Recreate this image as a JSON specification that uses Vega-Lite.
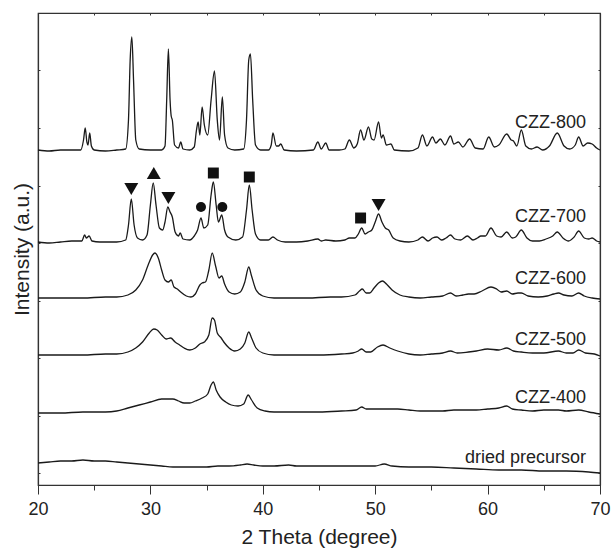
{
  "$schema": "https://vega.github.io/schema/vega-lite/v6.json",
  "autosize": {"type": "none"},
  "width": 562,
  "height": 472,
  "padding": {"left": 38, "top": 13, "right": 12, "bottom": 64},
  "background": "white",
  "config": {
    "view": {"stroke": "#333", "strokeWidth": 1.2},
    "font": "Liberation Sans",
    "axis": {"labelFont": "Liberation Sans", "titleFont": "Liberation Sans", "domainColor": "#333", "domainWidth": 1.2, "tickColor": "#333", "labelColor": "#222", "titleColor": "#222", "grid": false}
  },
  "datasets": {
    "lines": [
      {"s":"800","x":20,"v":335},{"s":"800","x":21,"v":334},{"s":"800","x":22,"v":335},{"s":"800","x":23,"v":335},{"s":"800","x":23.8,"v":335},{"s":"800","x":24.05,"v":345},{"s":"800","x":24.2,"v":357},{"s":"800","x":24.35,"v":343},{"s":"800","x":24.45,"v":340},{"s":"800","x":24.6,"v":352},{"s":"800","x":24.75,"v":339},{"s":"800","x":25,"v":335},{"s":"800","x":26,"v":334},{"s":"800","x":27,"v":335},{"s":"800","x":27.8,"v":336},{"s":"800","x":28.05,"v":365},{"s":"800","x":28.2,"v":425},{"s":"800","x":28.35,"v":448},{"s":"800","x":28.5,"v":405},{"s":"800","x":28.7,"v":345},{"s":"800","x":29,"v":336},{"s":"800","x":30,"v":335},{"s":"800","x":31,"v":335},{"s":"800","x":31.3,"v":339},{"s":"800","x":31.45,"v":385},{"s":"800","x":31.6,"v":436},{"s":"800","x":31.75,"v":385},{"s":"800","x":31.85,"v":369},{"s":"800","x":31.95,"v":365},{"s":"800","x":32.15,"v":340},{"s":"800","x":32.5,"v":337},{"s":"800","x":32.7,"v":343},{"s":"800","x":32.9,"v":336},{"s":"800","x":33.5,"v":335},{"s":"800","x":33.9,"v":338},{"s":"800","x":34.1,"v":355},{"s":"800","x":34.25,"v":363},{"s":"800","x":34.4,"v":350},{"s":"800","x":34.6,"v":378},{"s":"800","x":34.8,"v":360},{"s":"800","x":35.1,"v":350},{"s":"800","x":35.4,"v":385},{"s":"800","x":35.7,"v":414},{"s":"800","x":35.95,"v":365},{"s":"800","x":36.15,"v":345},{"s":"800","x":36.4,"v":388},{"s":"800","x":36.6,"v":350},{"s":"800","x":36.9,"v":337},{"s":"800","x":37.5,"v":335},{"s":"800","x":38.3,"v":336},{"s":"800","x":38.55,"v":365},{"s":"800","x":38.75,"v":425},{"s":"800","x":38.9,"v":431},{"s":"800","x":39.1,"v":385},{"s":"800","x":39.35,"v":340},{"s":"800","x":39.8,"v":335},{"s":"800","x":40.5,"v":335},{"s":"800","x":40.75,"v":340},{"s":"800","x":40.9,"v":352},{"s":"800","x":41.2,"v":339},{"s":"800","x":41.4,"v":339},{"s":"800","x":41.6,"v":341},{"s":"800","x":41.9,"v":335},{"s":"800","x":43,"v":334},{"s":"800","x":44.5,"v":335},{"s":"800","x":44.9,"v":343},{"s":"800","x":45.2,"v":336},{"s":"800","x":45.6,"v":342},{"s":"800","x":45.9,"v":335},{"s":"800","x":46.8,"v":335},{"s":"800","x":47.3,"v":336},{"s":"800","x":47.7,"v":345},{"s":"800","x":48.1,"v":337},{"s":"800","x":48.4,"v":341},{"s":"800","x":48.7,"v":355},{"s":"800","x":49.0,"v":345},{"s":"800","x":49.4,"v":358},{"s":"800","x":49.7,"v":346},{"s":"800","x":49.9,"v":345},{"s":"800","x":50.3,"v":363},{"s":"800","x":50.55,"v":347},{"s":"800","x":50.7,"v":350},{"s":"800","x":51.0,"v":340},{"s":"800","x":51.4,"v":341},{"s":"800","x":51.7,"v":335},{"s":"800","x":53,"v":334},{"s":"800","x":53.8,"v":337},{"s":"800","x":54.2,"v":350},{"s":"800","x":54.6,"v":339},{"s":"800","x":55.1,"v":348},{"s":"800","x":55.4,"v":342},{"s":"800","x":55.8,"v":346},{"s":"800","x":56.2,"v":340},{"s":"800","x":56.7,"v":349},{"s":"800","x":57.0,"v":341},{"s":"800","x":57.4,"v":343},{"s":"800","x":57.8,"v":338},{"s":"800","x":58.4,"v":346},{"s":"800","x":58.9,"v":337},{"s":"800","x":59.6,"v":336},{"s":"800","x":60.1,"v":348},{"s":"800","x":60.6,"v":338},{"s":"800","x":61.0,"v":340},{"s":"800","x":61.7,"v":351},{"s":"800","x":62.1,"v":345},{"s":"800","x":62.3,"v":344},{"s":"800","x":62.6,"v":339},{"s":"800","x":63.0,"v":355},{"s":"800","x":63.4,"v":339},{"s":"800","x":63.9,"v":336},{"s":"800","x":64.4,"v":338},{"s":"800","x":64.9,"v":335},{"s":"800","x":65.5,"v":339},{"s":"800","x":66.2,"v":352},{"s":"800","x":66.8,"v":339},{"s":"800","x":67.3,"v":336},{"s":"800","x":67.8,"v":340},{"s":"800","x":68.1,"v":348},{"s":"800","x":68.5,"v":339},{"s":"800","x":68.9,"v":342},{"s":"800","x":69.3,"v":341},{"s":"800","x":69.7,"v":337},{"s":"800","x":70,"v":335},

      {"s":"700","x":20,"v":243},{"s":"700","x":21,"v":242},{"s":"700","x":22,"v":243},{"s":"700","x":23,"v":244},{"s":"700","x":23.9,"v":244},{"s":"700","x":24.15,"v":250},{"s":"700","x":24.3,"v":247},{"s":"700","x":24.55,"v":249},{"s":"700","x":24.8,"v":244},{"s":"700","x":25.5,"v":243},{"s":"700","x":27,"v":243},{"s":"700","x":27.8,"v":245},{"s":"700","x":28.05,"v":260},{"s":"700","x":28.3,"v":286},{"s":"700","x":28.55,"v":260},{"s":"700","x":28.85,"v":247},{"s":"700","x":29.3,"v":245},{"s":"700","x":29.7,"v":250},{"s":"700","x":30.0,"v":280},{"s":"700","x":30.25,"v":302},{"s":"700","x":30.5,"v":280},{"s":"700","x":30.8,"v":257},{"s":"700","x":31.1,"v":255},{"s":"700","x":31.3,"v":263},{"s":"700","x":31.55,"v":278},{"s":"700","x":31.75,"v":273},{"s":"700","x":31.95,"v":268},{"s":"700","x":32.2,"v":253},{"s":"700","x":32.5,"v":249},{"s":"700","x":32.65,"v":252},{"s":"700","x":32.9,"v":246},{"s":"700","x":33.5,"v":245},{"s":"700","x":33.9,"v":249},{"s":"700","x":34.2,"v":255},{"s":"700","x":34.5,"v":267},{"s":"700","x":34.75,"v":257},{"s":"700","x":35.1,"v":260},{"s":"700","x":35.4,"v":290},{"s":"700","x":35.6,"v":303},{"s":"700","x":35.85,"v":280},{"s":"700","x":36.05,"v":263},{"s":"700","x":36.35,"v":270},{"s":"700","x":36.6,"v":255},{"s":"700","x":36.9,"v":248},{"s":"700","x":37.6,"v":245},{"s":"700","x":38.2,"v":248},{"s":"700","x":38.55,"v":275},{"s":"700","x":38.8,"v":300},{"s":"700","x":39.05,"v":275},{"s":"700","x":39.35,"v":251},{"s":"700","x":39.8,"v":245},{"s":"700","x":40.5,"v":245},{"s":"700","x":40.9,"v":248},{"s":"700","x":41.3,"v":245},{"s":"700","x":42,"v":243},{"s":"700","x":43,"v":243},{"s":"700","x":44,"v":244},{"s":"700","x":44.9,"v":246},{"s":"700","x":45.2,"v":244},{"s":"700","x":45.6,"v":245},{"s":"700","x":46.5,"v":244},{"s":"700","x":47.3,"v":245},{"s":"700","x":47.7,"v":247},{"s":"700","x":48.2,"v":247},{"s":"700","x":48.5,"v":251},{"s":"700","x":48.8,"v":257},{"s":"700","x":49.1,"v":251},{"s":"700","x":49.4,"v":253},{"s":"700","x":49.7,"v":255},{"s":"700","x":50.0,"v":263},{"s":"700","x":50.3,"v":271},{"s":"700","x":50.6,"v":263},{"s":"700","x":50.9,"v":257},{"s":"700","x":51.2,"v":255},{"s":"700","x":51.6,"v":247},{"s":"700","x":52.2,"v":244},{"s":"700","x":53,"v":243},{"s":"700","x":53.8,"v":245},{"s":"700","x":54.2,"v":248},{"s":"700","x":54.7,"v":244},{"s":"700","x":55.1,"v":247},{"s":"700","x":55.5,"v":248},{"s":"700","x":55.9,"v":245},{"s":"700","x":56.3,"v":247},{"s":"700","x":56.7,"v":250},{"s":"700","x":57.1,"v":246},{"s":"700","x":57.6,"v":245},{"s":"700","x":58.2,"v":249},{"s":"700","x":58.7,"v":245},{"s":"700","x":59.1,"v":247},{"s":"700","x":59.4,"v":249},{"s":"700","x":59.8,"v":249},{"s":"700","x":60.3,"v":257},{"s":"700","x":60.8,"v":249},{"s":"700","x":61.2,"v":248},{"s":"700","x":61.7,"v":253},{"s":"700","x":62.2,"v":247},{"s":"700","x":62.5,"v":248},{"s":"700","x":63.0,"v":255},{"s":"700","x":63.5,"v":247},{"s":"700","x":64.0,"v":244},{"s":"700","x":64.6,"v":244},{"s":"700","x":65.2,"v":246},{"s":"700","x":65.8,"v":249},{"s":"700","x":66.2,"v":253},{"s":"700","x":66.7,"v":247},{"s":"700","x":67.2,"v":244},{"s":"700","x":67.7,"v":248},{"s":"700","x":68.1,"v":254},{"s":"700","x":68.6,"v":247},{"s":"700","x":69.0,"v":246},{"s":"700","x":69.3,"v":247},{"s":"700","x":69.7,"v":244},{"s":"700","x":70,"v":243},

      {"s":"600","x":20,"v":187},{"s":"600","x":22,"v":187},{"s":"600","x":24,"v":187},{"s":"600","x":26,"v":188},{"s":"600","x":27,"v":188},{"s":"600","x":28,"v":190},{"s":"600","x":28.7,"v":195},{"s":"600","x":29.3,"v":205},{"s":"600","x":29.8,"v":220},{"s":"600","x":30.2,"v":230},{"s":"600","x":30.4,"v":232},{"s":"600","x":30.7,"v":227},{"s":"600","x":31.0,"v":215},{"s":"600","x":31.3,"v":205},{"s":"600","x":31.6,"v":203},{"s":"600","x":31.85,"v":205},{"s":"600","x":32.1,"v":198},{"s":"600","x":32.4,"v":196},{"s":"600","x":32.7,"v":193},{"s":"600","x":33.2,"v":189},{"s":"600","x":33.6,"v":188},{"s":"600","x":34.0,"v":191},{"s":"600","x":34.4,"v":200},{"s":"600","x":34.6,"v":202},{"s":"600","x":34.9,"v":203},{"s":"600","x":35.2,"v":215},{"s":"600","x":35.5,"v":232},{"s":"600","x":35.8,"v":219},{"s":"600","x":36.1,"v":207},{"s":"600","x":36.35,"v":209},{"s":"600","x":36.6,"v":201},{"s":"600","x":37.0,"v":193},{"s":"600","x":37.5,"v":191},{"s":"600","x":38.0,"v":193},{"s":"600","x":38.4,"v":203},{"s":"600","x":38.75,"v":218},{"s":"600","x":39.0,"v":209},{"s":"600","x":39.4,"v":195},{"s":"600","x":40,"v":189},{"s":"600","x":41,"v":187},{"s":"600","x":42,"v":187},{"s":"600","x":44,"v":187},{"s":"600","x":46,"v":188},{"s":"600","x":47,"v":188},{"s":"600","x":48.2,"v":190},{"s":"600","x":48.6,"v":194},{"s":"600","x":48.85,"v":196},{"s":"600","x":49.2,"v":192},{"s":"600","x":49.5,"v":192},{"s":"600","x":49.9,"v":197},{"s":"600","x":50.3,"v":202},{"s":"600","x":50.65,"v":204},{"s":"600","x":51.0,"v":201},{"s":"600","x":51.5,"v":195},{"s":"600","x":52.2,"v":190},{"s":"600","x":53,"v":188},{"s":"600","x":54,"v":187},{"s":"600","x":55,"v":188},{"s":"600","x":56,"v":189},{"s":"600","x":56.7,"v":192},{"s":"600","x":57.2,"v":189},{"s":"600","x":57.8,"v":190},{"s":"600","x":58.3,"v":191},{"s":"600","x":58.8,"v":191},{"s":"600","x":59.5,"v":194},{"s":"600","x":60.3,"v":198},{"s":"600","x":60.8,"v":196},{"s":"600","x":61.2,"v":193},{"s":"600","x":61.7,"v":194},{"s":"600","x":62.2,"v":191},{"s":"600","x":62.7,"v":192},{"s":"600","x":63.0,"v":192},{"s":"600","x":63.6,"v":189},{"s":"600","x":64.5,"v":188},{"s":"600","x":65.3,"v":189},{"s":"600","x":65.9,"v":191},{"s":"600","x":66.3,"v":192},{"s":"600","x":66.8,"v":190},{"s":"600","x":67.5,"v":189},{"s":"600","x":68.1,"v":192},{"s":"600","x":68.6,"v":189},{"s":"600","x":69.3,"v":187},{"s":"600","x":70,"v":186},

      {"s":"500","x":20,"v":130},{"s":"500","x":22,"v":130},{"s":"500","x":24,"v":130},{"s":"500","x":26,"v":131},{"s":"500","x":27,"v":131},{"s":"500","x":28,"v":133},{"s":"500","x":28.7,"v":137},{"s":"500","x":29.3,"v":143},{"s":"500","x":29.9,"v":152},{"s":"500","x":30.3,"v":156},{"s":"500","x":30.6,"v":155},{"s":"500","x":31.0,"v":150},{"s":"500","x":31.4,"v":146},{"s":"500","x":31.8,"v":147},{"s":"500","x":32.2,"v":143},{"s":"500","x":32.6,"v":140},{"s":"500","x":33.0,"v":137},{"s":"500","x":33.5,"v":135},{"s":"500","x":34.0,"v":137},{"s":"500","x":34.4,"v":141},{"s":"500","x":34.8,"v":143},{"s":"500","x":35.2,"v":150},{"s":"500","x":35.5,"v":167},{"s":"500","x":35.7,"v":165},{"s":"500","x":35.95,"v":152},{"s":"500","x":36.3,"v":147},{"s":"500","x":36.6,"v":142},{"s":"500","x":37.0,"v":137},{"s":"500","x":37.5,"v":134},{"s":"500","x":38.0,"v":136},{"s":"500","x":38.4,"v":142},{"s":"500","x":38.75,"v":153},{"s":"500","x":39.0,"v":147},{"s":"500","x":39.4,"v":137},{"s":"500","x":40,"v":132},{"s":"500","x":41,"v":130},{"s":"500","x":43,"v":130},{"s":"500","x":45,"v":130},{"s":"500","x":47,"v":131},{"s":"500","x":48.0,"v":132},{"s":"500","x":48.5,"v":134},{"s":"500","x":48.8,"v":136},{"s":"500","x":49.2,"v":133},{"s":"500","x":49.6,"v":133},{"s":"500","x":50.2,"v":138},{"s":"500","x":50.7,"v":140},{"s":"500","x":51.3,"v":137},{"s":"500","x":52.0,"v":134},{"s":"500","x":53,"v":131},{"s":"500","x":54,"v":130},{"s":"500","x":55,"v":131},{"s":"500","x":56,"v":132},{"s":"500","x":56.7,"v":134},{"s":"500","x":57.3,"v":132},{"s":"500","x":58.3,"v":133},{"s":"500","x":59.0,"v":134},{"s":"500","x":60,"v":136},{"s":"500","x":61.0,"v":135},{"s":"500","x":61.7,"v":137},{"s":"500","x":62.3,"v":134},{"s":"500","x":63,"v":133},{"s":"500","x":64,"v":132},{"s":"500","x":65,"v":132},{"s":"500","x":66.3,"v":134},{"s":"500","x":67,"v":132},{"s":"500","x":67.6,"v":132},{"s":"500","x":68.1,"v":135},{"s":"500","x":68.7,"v":132},{"s":"500","x":69.5,"v":131},{"s":"500","x":70,"v":129},

      {"s":"400","x":20,"v":72},{"s":"400","x":22,"v":72},{"s":"400","x":24,"v":73},{"s":"400","x":26,"v":73},{"s":"400","x":27,"v":74},{"s":"400","x":28,"v":77},{"s":"400","x":29,"v":80},{"s":"400","x":30,"v":83},{"s":"400","x":31,"v":86},{"s":"400","x":32,"v":86},{"s":"400","x":32.5,"v":84},{"s":"400","x":33,"v":82},{"s":"400","x":33.5,"v":82},{"s":"400","x":34,"v":84},{"s":"400","x":34.6,"v":87},{"s":"400","x":35.1,"v":91},{"s":"400","x":35.4,"v":100},{"s":"400","x":35.6,"v":103},{"s":"400","x":35.85,"v":95},{"s":"400","x":36.2,"v":88},{"s":"400","x":36.7,"v":83},{"s":"400","x":37.2,"v":80},{"s":"400","x":37.8,"v":79},{"s":"400","x":38.3,"v":81},{"s":"400","x":38.7,"v":90},{"s":"400","x":39.0,"v":85},{"s":"400","x":39.5,"v":77},{"s":"400","x":40.2,"v":74},{"s":"400","x":41,"v":73},{"s":"400","x":43,"v":73},{"s":"400","x":45,"v":73},{"s":"400","x":47,"v":74},{"s":"400","x":48.3,"v":75},{"s":"400","x":48.8,"v":78},{"s":"400","x":49.2,"v":76},{"s":"400","x":50,"v":76},{"s":"400","x":51,"v":76},{"s":"400","x":52,"v":76},{"s":"400","x":53,"v":75},{"s":"400","x":54,"v":74},{"s":"400","x":55,"v":74},{"s":"400","x":56,"v":74},{"s":"400","x":57,"v":75},{"s":"400","x":58,"v":75},{"s":"400","x":59,"v":75},{"s":"400","x":60,"v":76},{"s":"400","x":61,"v":77},{"s":"400","x":61.7,"v":79},{"s":"400","x":62.2,"v":76},{"s":"400","x":63,"v":75},{"s":"400","x":64,"v":74},{"s":"400","x":65,"v":75},{"s":"400","x":66.3,"v":75},{"s":"400","x":67,"v":74},{"s":"400","x":68.1,"v":75},{"s":"400","x":69,"v":73},{"s":"400","x":70,"v":71},

      {"s":"dried","x":20,"v":22},{"s":"dried","x":21,"v":23},{"s":"dried","x":22,"v":24},{"s":"dried","x":23,"v":24},{"s":"dried","x":24,"v":25},{"s":"dried","x":25,"v":24},{"s":"dried","x":26,"v":24},{"s":"dried","x":27,"v":23},{"s":"dried","x":28,"v":22},{"s":"dried","x":29,"v":21},{"s":"dried","x":30,"v":20},{"s":"dried","x":31,"v":19},{"s":"dried","x":32,"v":18},{"s":"dried","x":33,"v":18},{"s":"dried","x":34,"v":18},{"s":"dried","x":35,"v":18},{"s":"dried","x":36,"v":19},{"s":"dried","x":37,"v":19},{"s":"dried","x":38,"v":20},{"s":"dried","x":38.6,"v":21},{"s":"dried","x":39.2,"v":20},{"s":"dried","x":40,"v":19},{"s":"dried","x":41,"v":19},{"s":"dried","x":42.3,"v":20},{"s":"dried","x":43,"v":19},{"s":"dried","x":44,"v":19},{"s":"dried","x":45,"v":19},{"s":"dried","x":46,"v":19},{"s":"dried","x":47,"v":19},{"s":"dried","x":48,"v":19},{"s":"dried","x":49,"v":19},{"s":"dried","x":50,"v":19},{"s":"dried","x":50.8,"v":21},{"s":"dried","x":51.5,"v":19},{"s":"dried","x":53,"v":18},{"s":"dried","x":55,"v":18},{"s":"dried","x":57,"v":17},{"s":"dried","x":59,"v":16},{"s":"dried","x":61,"v":15},{"s":"dried","x":63,"v":15},{"s":"dried","x":65,"v":14},{"s":"dried","x":67,"v":14},{"s":"dried","x":69,"v":13},{"s":"dried","x":70,"v":12}
    ],
    "markers": [
      {"m":"down","x":28.3,"v":296},
      {"m":"up","x":30.3,"v":312},
      {"m":"down","x":31.6,"v":287},
      {"m":"circle","x":34.5,"v":278},
      {"m":"square","x":35.6,"v":312},
      {"m":"circle","x":36.4,"v":278},
      {"m":"square","x":38.8,"v":308},
      {"m":"square","x":48.7,"v":267},
      {"m":"down","x":50.3,"v":280}
    ],
    "labels": [
      {"t":"CZZ-800","x":68.75,"v":362},
      {"t":"CZZ-700","x":68.75,"v":268},
      {"t":"CZZ-600","x":68.75,"v":206},
      {"t":"CZZ-500","x":68.75,"v":145},
      {"t":"CZZ-400","x":68.75,"v":87},
      {"t":"dried precursor","x":68.75,"v":27}
    ]
  },
  "resolve": {"axis": {"x": "independent", "y": "independent"}},
  "layer": [
    {
      "data": {"name": "lines"},
      "mark": {"type": "line", "color": "#1a1a1a", "strokeWidth": 1.3, "interpolate": "monotone"},
      "encoding": {
        "x": {"field": "x", "type": "quantitative", "scale": {"domain": [20, 70], "nice": false},
          "axis": {"orient": "bottom", "title": "2 Theta (degree)", "values": [20,25,30,35,40,45,50,55,60,65,70],
            "labelExpr": "datum.value % 10 === 0 ? datum.label : ''", "labelFontSize": 18, "labelPadding": 6,
            "tickSize": {"condition": {"test": "datum.value % 10 === 0", "value": 9}, "value": 5},
            "labelFlush": false, "titleFontSize": 21, "titleFontWeight": "normal", "titlePadding": 8}},
        "y": {"field": "v", "type": "quantitative", "scale": {"domain": [0, 472], "nice": false},
          "axis": {"orient": "left", "title": "Intensity (a.u.)", "values": [12,69.5,127,184.5,242,299.5,357,414.5,472],
            "labels": false, "tickSize": -2, "titleFontSize": 21, "titleFontWeight": "normal", "titlePadding": 5}},
        "detail": {"field": "s", "type": "nominal"}
      }
    },
    {
      "data": {"name": "markers"},
      "mark": {"type": "point", "filled": true, "color": "#111", "opacity": 1, "strokeWidth": 0},
      "encoding": {
        "x": {"field": "x", "type": "quantitative",
          "axis": {"orient": "top", "title": null, "labels": false, "values": [25,30,35,40,45,50,55,60,65], "tickSize": -2}},
        "y": {"field": "v", "type": "quantitative",
          "axis": {"orient": "right", "title": null, "labels": false, "values": [12,69.5,127,184.5,242,299.5,357,414.5,472], "tickSize": -2}},
        "shape": {"field": "m", "type": "nominal", "legend": null,
          "scale": {"domain": ["down","up","square","circle"], "range": ["triangle-down","triangle-up","square","circle"]}},
        "size": {"field": "m", "type": "nominal", "legend": null,
          "scale": {"type": "ordinal", "domain": ["down","up","square","circle"], "range": [195,195,120,100]}}
      }
    },
    {
      "data": {"name": "labels"},
      "mark": {"type": "text", "align": "right", "baseline": "middle", "fontSize": 18, "font": "Liberation Sans", "color": "#222"},
      "encoding": {
        "x": {"field": "x", "type": "quantitative", "axis": null},
        "y": {"field": "v", "type": "quantitative", "axis": null},
        "text": {"field": "t"}
      }
    }
  ]
}
